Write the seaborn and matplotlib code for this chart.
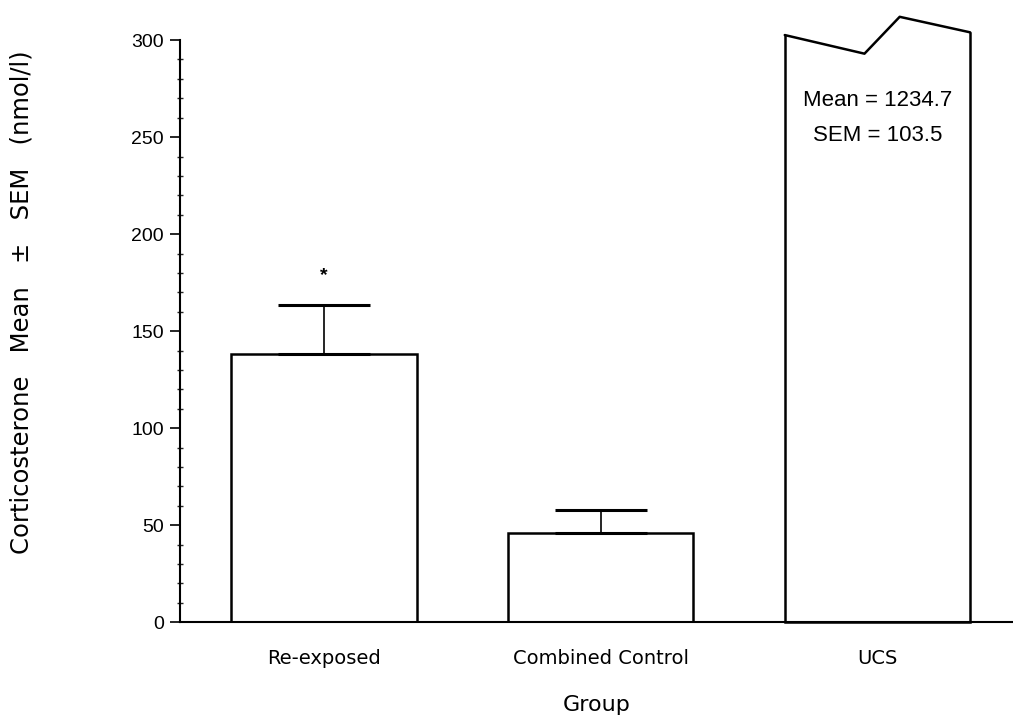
import numpy as np
import pandas as pd
import matplotlib
matplotlib.use("Agg")
import matplotlib.pyplot as plt
import seaborn as sns
from matplotlib.ticker import MultipleLocator
from matplotlib.patches import Polygon

# data
groups = ["Re-exposed", "Combined Control", "UCS"]
means = [138.0, 46.0, 1234.7]
sems = [25.5, 12.0, 103.5]
signif = ["*", "", ""]
# jagged "broken bar" outline of the UCS bar (fractions across bar, y values)
break_frac = [0.0, 0.43, 0.62, 1.0]
break_y = [302.6, 293.0, 312.0, 304.0]

df = pd.DataFrame({"Group": groups, "Mean": means, "SEM": sems})

sns.set_theme(style="ticks")
plt.rcParams["font.family"] = ["Liberation Sans", "DejaVu Sans"]
plt.rcParams["text.color"] = "black"

fig = plt.figure(figsize=(10.13, 7.16), dpi=100)
ax = fig.add_axes([0.178, 0.131, 0.822, 0.813])

sns.barplot(data=df, x="Group", y="Mean", color="white", edgecolor="black",
            linewidth=1.8, width=0.67, saturation=1, ax=ax)

x = np.arange(len(groups))
ax.errorbar(x, df["Mean"], yerr=[np.zeros(len(groups)), df["SEM"]],
            fmt="none", ecolor="black", elinewidth=1.2, capsize=33, capthick=2.2)

for xi, (m, s, lab) in enumerate(zip(means, sems, signif)):
    if lab:
        ax.text(xi, m + s + 11, lab, ha="center", va="bottom", fontsize=14,
                fontweight="bold")

# UCS bar is broken at the top: clip it along the jagged line
ucs = ax.patches[2]
x0 = ucs.get_x()
w = ucs.get_width()
bx = [x0 + f * w for f in break_frac]
pad = 0.02
clip = Polygon([(x0 - pad, -5), (x0 - pad, break_y[0])] + list(zip(bx, break_y))
               + [(x0 + w + pad, break_y[-1]), (x0 + w + pad, -5)],
               closed=True, transform=ax.transData)
ucs.set_clip_box(None)
ucs.set_clip_path(clip)
ax.plot(bx, break_y, color="black", lw=1.8, clip_on=False, zorder=5)
ax.text(2, 269, f"Mean = {means[2]}", ha="center", va="center", fontsize=16)
ax.text(2, 251, f"SEM = {sems[2]}", ha="center", va="center", fontsize=16)

ax.set_ylim(0, 300)
ax.set_xlim(-0.52, 2.49)
ax.yaxis.set_major_locator(MultipleLocator(50))
ax.yaxis.set_minor_locator(MultipleLocator(10))
ax.tick_params(axis="y", which="major", direction="out", length=7, width=1.2,
               labelsize=14, pad=5, colors="black")
ax.tick_params(axis="y", which="minor", direction="inout", length=5, width=1)
ax.tick_params(axis="x", length=0, pad=19, colors="black")
for lbl in ax.get_xticklabels():
    lbl.set_fontfamily("DejaVu Sans")
    lbl.set_fontsize(14)

sns.despine(ax=ax)
for sp in ["left", "bottom"]:
    ax.spines[sp].set_linewidth(1.5)
    ax.spines[sp].set_color("black")

ax.set_xlabel("Group", fontsize=16, family="DejaVu Sans", color="black")
ax.xaxis.set_label_coords(0.5, -0.125)
ax.set_ylabel("Corticosterone   Mean   \u00b1   SEM   (nmol/l)", fontsize=17.5,
              family="DejaVu Sans", color="black")
ax.yaxis.set_label_coords(-0.176, 0.55)

fig.savefig("out.png", dpi=100)
